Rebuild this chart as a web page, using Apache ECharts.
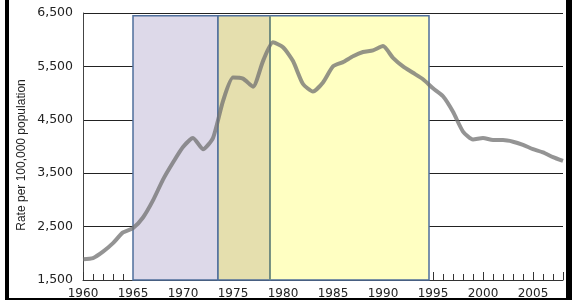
<!DOCTYPE html>
<html>
<head>
<meta charset="utf-8">
<script src="https://cdn.jsdelivr.net/npm/echarts@6/dist/echarts.min.js"></script>
<style>
html,body{margin:0;padding:0;background:#fff;}
#chart{width:572px;height:300px;}
</style>
</head>
<body>
<div id="chart"></div>
<script>
var years = [1960,1961,1962,1963,1964,1965,1966,1967,1968,1969,1970,1971,1972,1973,1974,1975,1976,1977,1978,1979,1980,1981,1982,1983,1984,1985,1986,1987,1988,1989,1990,1991,1992,1993,1994,1995,1996,1997,1998,1999,2000,2001,2002,2003,2004,2005,2006,2007,2008];
var rates = [1890,1910,2030,2190,2390,2470,2670,2990,3380,3700,3990,4160,3950,4160,4850,5290,5270,5120,5600,5950,5860,5600,5170,5030,5200,5500,5580,5690,5770,5800,5880,5660,5500,5380,5260,5090,4940,4650,4280,4130,4160,4120,4120,4090,4030,3950,3890,3800,3730];
var yTicks = [1500,2500,3500,4500,5500,6500];
var periods = [
  {from:1965, to:1973.5, top:6450, color:'#ddd9e9'},
  {from:1973.5, to:1978.7, top:6450, color:'#e5dfae'},
  {from:1978.7, to:1994.6, top:6450, color:'#ffffc2'}
];
var yTitle = 'Rate per 100,000 population';

var chart = echarts.init(document.getElementById('chart'));
var data = years.map(function(y,i){return [y, rates[i]];});
var areas = periods.map(function(p){
  return [{xAxis:p.from, yAxis:p.top, itemStyle:{color:p.color, borderColor:'#4f6f9c', borderWidth:1.5}},
          {xAxis:p.to, yAxis:yTicks[0]}];
});
chart.setOption({
  animation:false,
  grid:{left:83, right:9, top:13, bottom:18},
  xAxis:[{
    type:'value', min:years[0], max:years[years.length-1], interval:1,
    axisLine:{show:true, lineStyle:{color:'#333', width:1}},
    axisTick:{show:true, inside:true, length:6, lineStyle:{color:'#333'}},
    axisLabel:{margin:8, color:'#222', fontFamily:'DejaVu Sans', fontSize:12,
      formatter:function(v){return v%5===0 ? String(v) : '';}},
    splitLine:{show:false}
  },{
    type:'value', position:'bottom', min:years[0], max:years[years.length-1], interval:5,
    axisLine:{show:false},
    axisTick:{show:true, inside:true, length:8, lineStyle:{color:'#333'}},
    axisLabel:{show:false}, splitLine:{show:false}
  }],
  yAxis:{
    type:'value', min:yTicks[0], max:yTicks[yTicks.length-1], interval:1000,
    axisLine:{show:true, lineStyle:{color:'#444', width:1}},
    axisTick:{show:false},
    axisLabel:{margin:10, color:'#222', fontFamily:'DejaVu Sans', fontSize:12.5,
      formatter:function(v){return v.toLocaleString('en-US');}},
    splitLine:{show:true, lineStyle:{color:'#222', width:1}}
  },
  graphic:[
    {type:'text', z:50, x:22, y:155, rotation:Math.PI/2,
      style:{text:yTitle, fontFamily:'Liberation Sans', fontSize:12, fill:'#222', textAlign:'center', textVerticalAlign:'middle'}},
    {type:'rect', z:100, shape:{x:5, y:0, width:4, height:300}, style:{fill:'#000'}},
    {type:'rect', z:100, shape:{x:566, y:0, width:6, height:300}, style:{fill:'#000'}},
    {type:'rect', z:100, shape:{x:5, y:298, width:567, height:2}, style:{fill:'#000'}}
  ],
  series:[{
    type:'line', data:data, showSymbol:false, smooth:0.2,
    lineStyle:{color:'#707070', width:4, opacity:0.75},
    z:5,
    markArea:{silent:true, data:areas},
    markLine:{silent:true, symbol:'none', label:{show:false},
      lineStyle:{color:'#7b9479', width:1.5, type:'solid'},
      data:[[{xAxis:periods[1].to, yAxis:yTicks[0]},{xAxis:periods[1].to, yAxis:periods[1].top}]]}
  }]
});
</script>
</body>
</html>
